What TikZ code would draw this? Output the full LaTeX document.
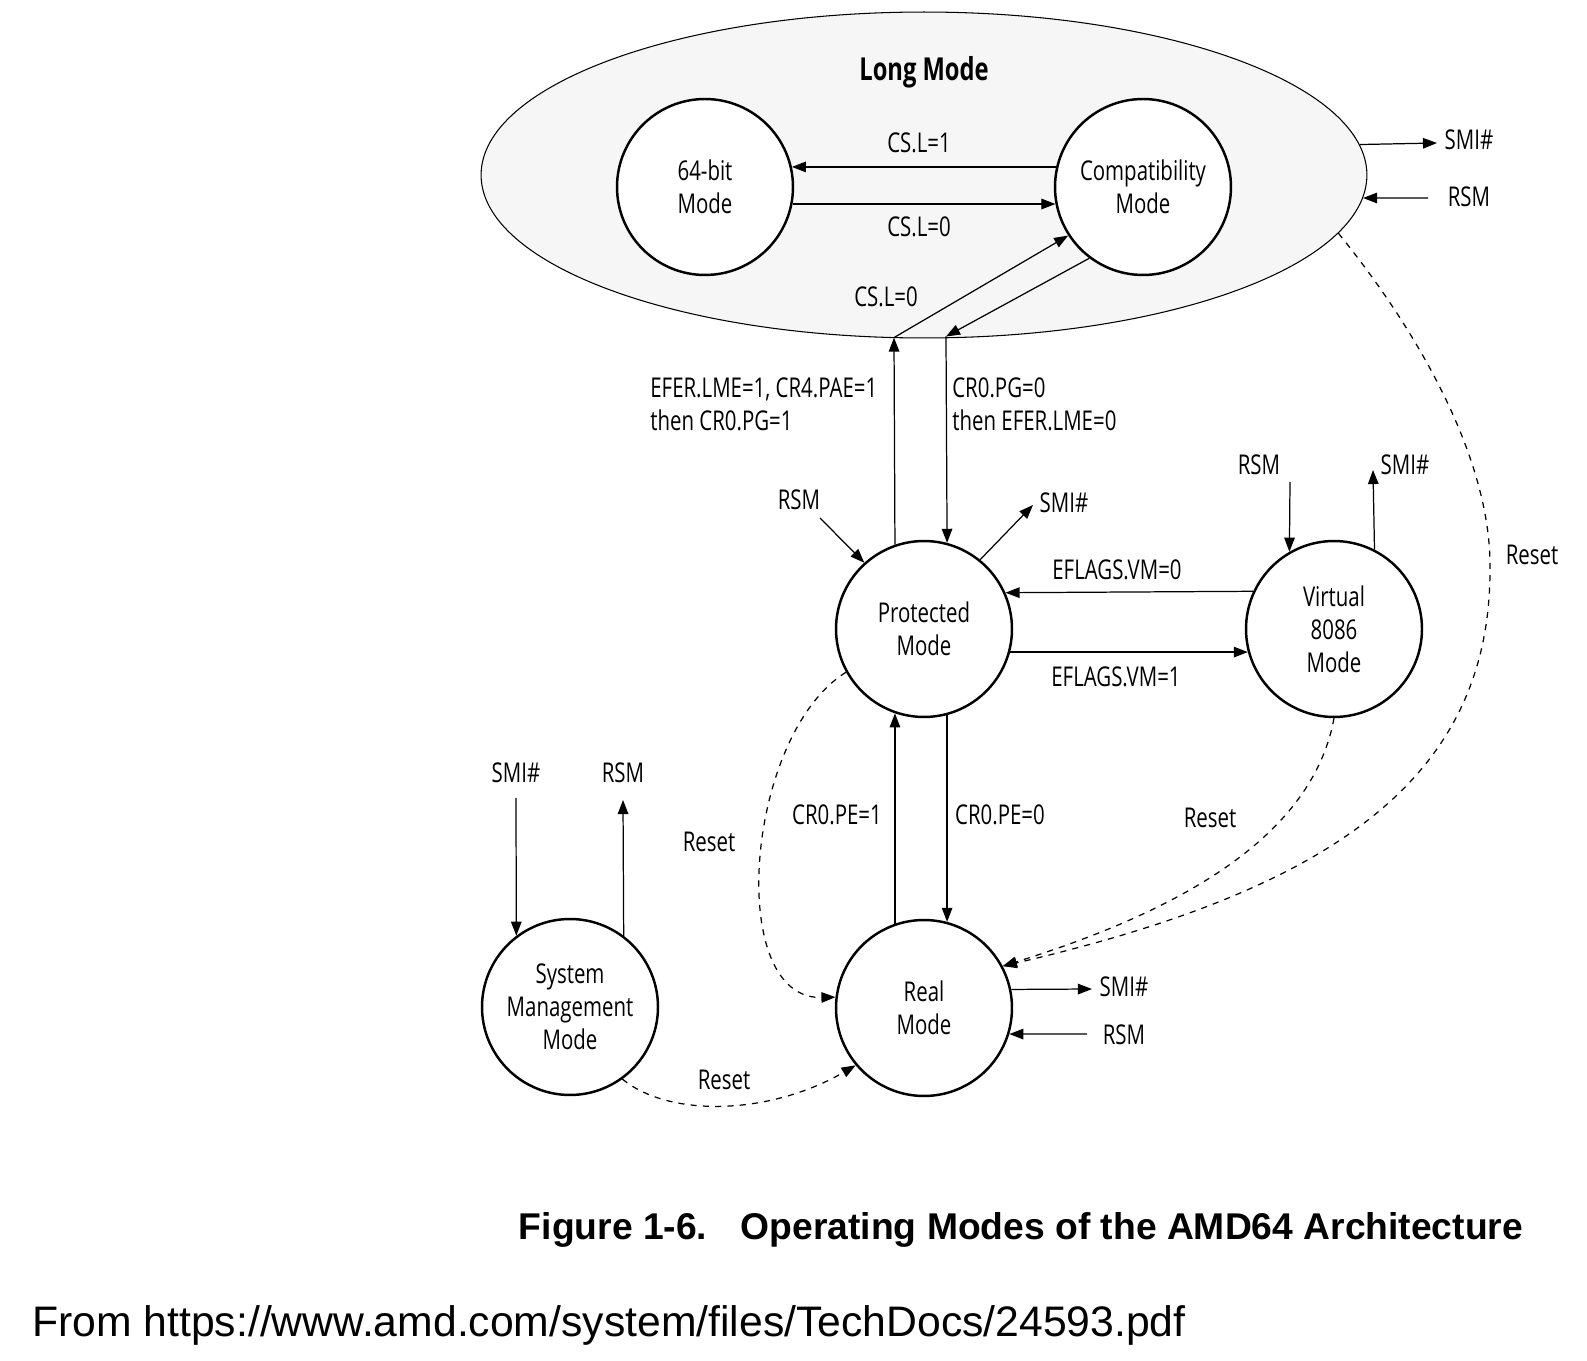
\documentclass[tikz,border=0pt]{standalone}
\usepackage{fontspec}
\setmainfont{Open Sans}[FakeStretch=0.75]
\newfontfamily\capfont{Liberation Sans}
\usetikzlibrary{arrows.meta,shapes.geometric}
\newcommand\lbl{\fontsize{15.5pt}{18.7pt}\selectfont}
\begin{document}
\begin{tikzpicture}[x=0.02cm,y=-0.02cm,
  mode/.style={circle,draw,fill=white,line width=1.4pt,minimum size=3.52cm,inner sep=0pt,align=center,font=\lbl},
  arr/.style={line width=0.7pt,-{Triangle[length=8pt,width=6pt]}},
  rst/.style={arr,dash pattern=on 3.5pt off 3.5pt},
  lab/.style={font=\lbl,inner sep=0pt,align=left}]
\useasboundingbox (0,0) rectangle (1587,1361);

% Long mode ellipse
\node[ellipse,draw,line width=0.6pt,fill=gray!7,minimum width=17.72cm,minimum height=6.52cm,inner sep=0pt] (lm) at (924,175) {};
\node[font=\fontsize{18pt}{21pt}\selectfont\bfseries,inner sep=0pt] (lmt) at (924,72) {Long Mode};

% modes
\node[mode] (b64) at (705,187) {64-bit\\Mode};
\node[mode] (cmp) at (1143,187) {Compatibility\\Mode};
\node[mode] (prot) at (924,629) {Protected\\Mode};
\node[mode] (v86) at (1334,629) {Virtual\\8086\\Mode};
\node[mode] (real) at (924,1008) {Real\\Mode};
\node[mode] (smm) at (570,1007) {System\\Management\\Mode};

% labels
\node[lab] (l1) at (919,143) {CS.L=1};
\node[lab] (l2) at (919,227) {CS.L=0};
\node[lab] (l3) at (886,297) {CS.L=0};
\node[lab,anchor=west] (l4) at (650,404) {EFER.LME=1, CR4.PAE=1\\then CR0.PG=1};
\node[lab,anchor=west] (l5) at (952,404) {CR0.PG=0\\then EFER.LME=0};
\node[lab] (l6) at (1117,570) {EFLAGS.VM=0};
\node[lab] (l7) at (1116,677) {EFLAGS.VM=1};
\node[lab] (l8) at (837,815) {CR0.PE=1};
\node[lab] (l9) at (1000,815) {CR0.PE=0};
\node[lab] (r1) at (709,842) {Reset};
\node[lab] (r2) at (1210,818) {Reset};
\node[lab] (r3) at (1532,555) {Reset};
\node[lab] (r4) at (724,1080) {Reset};

\node[lab] (smiLM) at (1469,140) {SMI\#};
\node[lab] (rsmLM) at (1469,197) {RSM};
\node[lab] (rsmP) at (799,500) {RSM};
\node[lab] (smiP) at (1064,503) {SMI\#};
\node[lab] (rsmV) at (1259,465) {RSM};
\node[lab] (smiV) at (1405,465) {SMI\#};
\node[lab] (smiR) at (1124,987) {SMI\#};
\node[lab] (rsmR) at (1124,1035) {RSM};
\node[lab] (smiS) at (516,773) {SMI\#};
\node[lab] (rsmS) at (623,773) {RSM};

% free-end coordinates
\coordinate (lmA) at (894,337.6);
\coordinate (lmB) at (946,336.5);
\coordinate (eSmiLM) at (1437,143);
\coordinate (sRsmLM) at (1428,198);
\coordinate (sRsmP) at (820,518);
\coordinate (eSmiP) at (1033,505);
\coordinate (sRsmV) at (1290,482);
\coordinate (eSmiV) at (1373,470);
\coordinate (eSmiR) at (1092,989);
\coordinate (sRsmR) at (1087,1034);
\coordinate (sSmiS) at (516,798);
\coordinate (eRsmS) at (623,800);

% long mode internal
\draw[arr] (cmp.167) -- (b64.13);
\draw[arr] (b64.-11.1) -- (cmp.191.1);
\draw[arr] (prot.109.9) -- (lmA);
\draw[arr] (lmA) -- (cmp.213.7);
\draw[arr] (cmp.233.3) -- (lmB);
\draw[arr] (lmB) -- (prot.75.5);

% long mode SMI/RSM
\draw[arr] (lm.4.2) -- (eSmiLM);
\draw[arr] (sRsmLM) -- (lm.-3);

% protected
\draw[arr] (sRsmP) -- (prot.132.2);
\draw[arr] (prot.51.3) -- (eSmiP);
\draw[arr] (v86.155.9) -- (prot.24.1);
\draw[arr] (prot.-15.2) -- (v86.195.2);

% virtual 8086
\draw[arr] (sRsmV) -- (v86.120);
\draw[arr] (v86.63.7) -- (eSmiV);

% protected <-> real
\draw[arr] (real.109.9) -- (prot.-109.9);
\draw[arr] (prot.-75.5) -- (real.75.5);

% real
\draw[arr] (real.12.5) -- (eSmiR);
\draw[arr] (sRsmR) -- (real.-17.2);

% SMM
\draw[arr] (sSmiS) -- (smm.127.9);
\draw[arr] (smm.53) -- (eRsmS);

% resets
\draw[rst] (smm.-54.5) .. controls (670,1118) and (770,1115) .. (real.220.9);
\draw[rst] (prot.209.4) .. controls (745,735) and (725,1000) .. (real.173.5);
\draw[rst] (v86.-90) .. controls (1310,850) and (1150,920) .. (real.28);
\draw[rst] (lm.-8.3) .. controls (1405,315) and (1492,450) .. (1490,570) .. controls (1490,780) and (1330,890) .. (real.28);

% caption
\node[font=\capfont\fontsize{21.2pt}{26pt}\selectfont\bfseries,inner sep=0pt] (cap) at (1021,1230) {Figure 1-6.\hspace{0.9em}Operating Modes of the AMD64 Architecture};
\node[font=\capfont\fontsize{24.3pt}{28pt}\selectfont,inner sep=0pt,anchor=west] (src) at (32,1325) {From https://www.amd.com/system/files/TechDocs/24593.pdf};
\end{tikzpicture}
\end{document}
